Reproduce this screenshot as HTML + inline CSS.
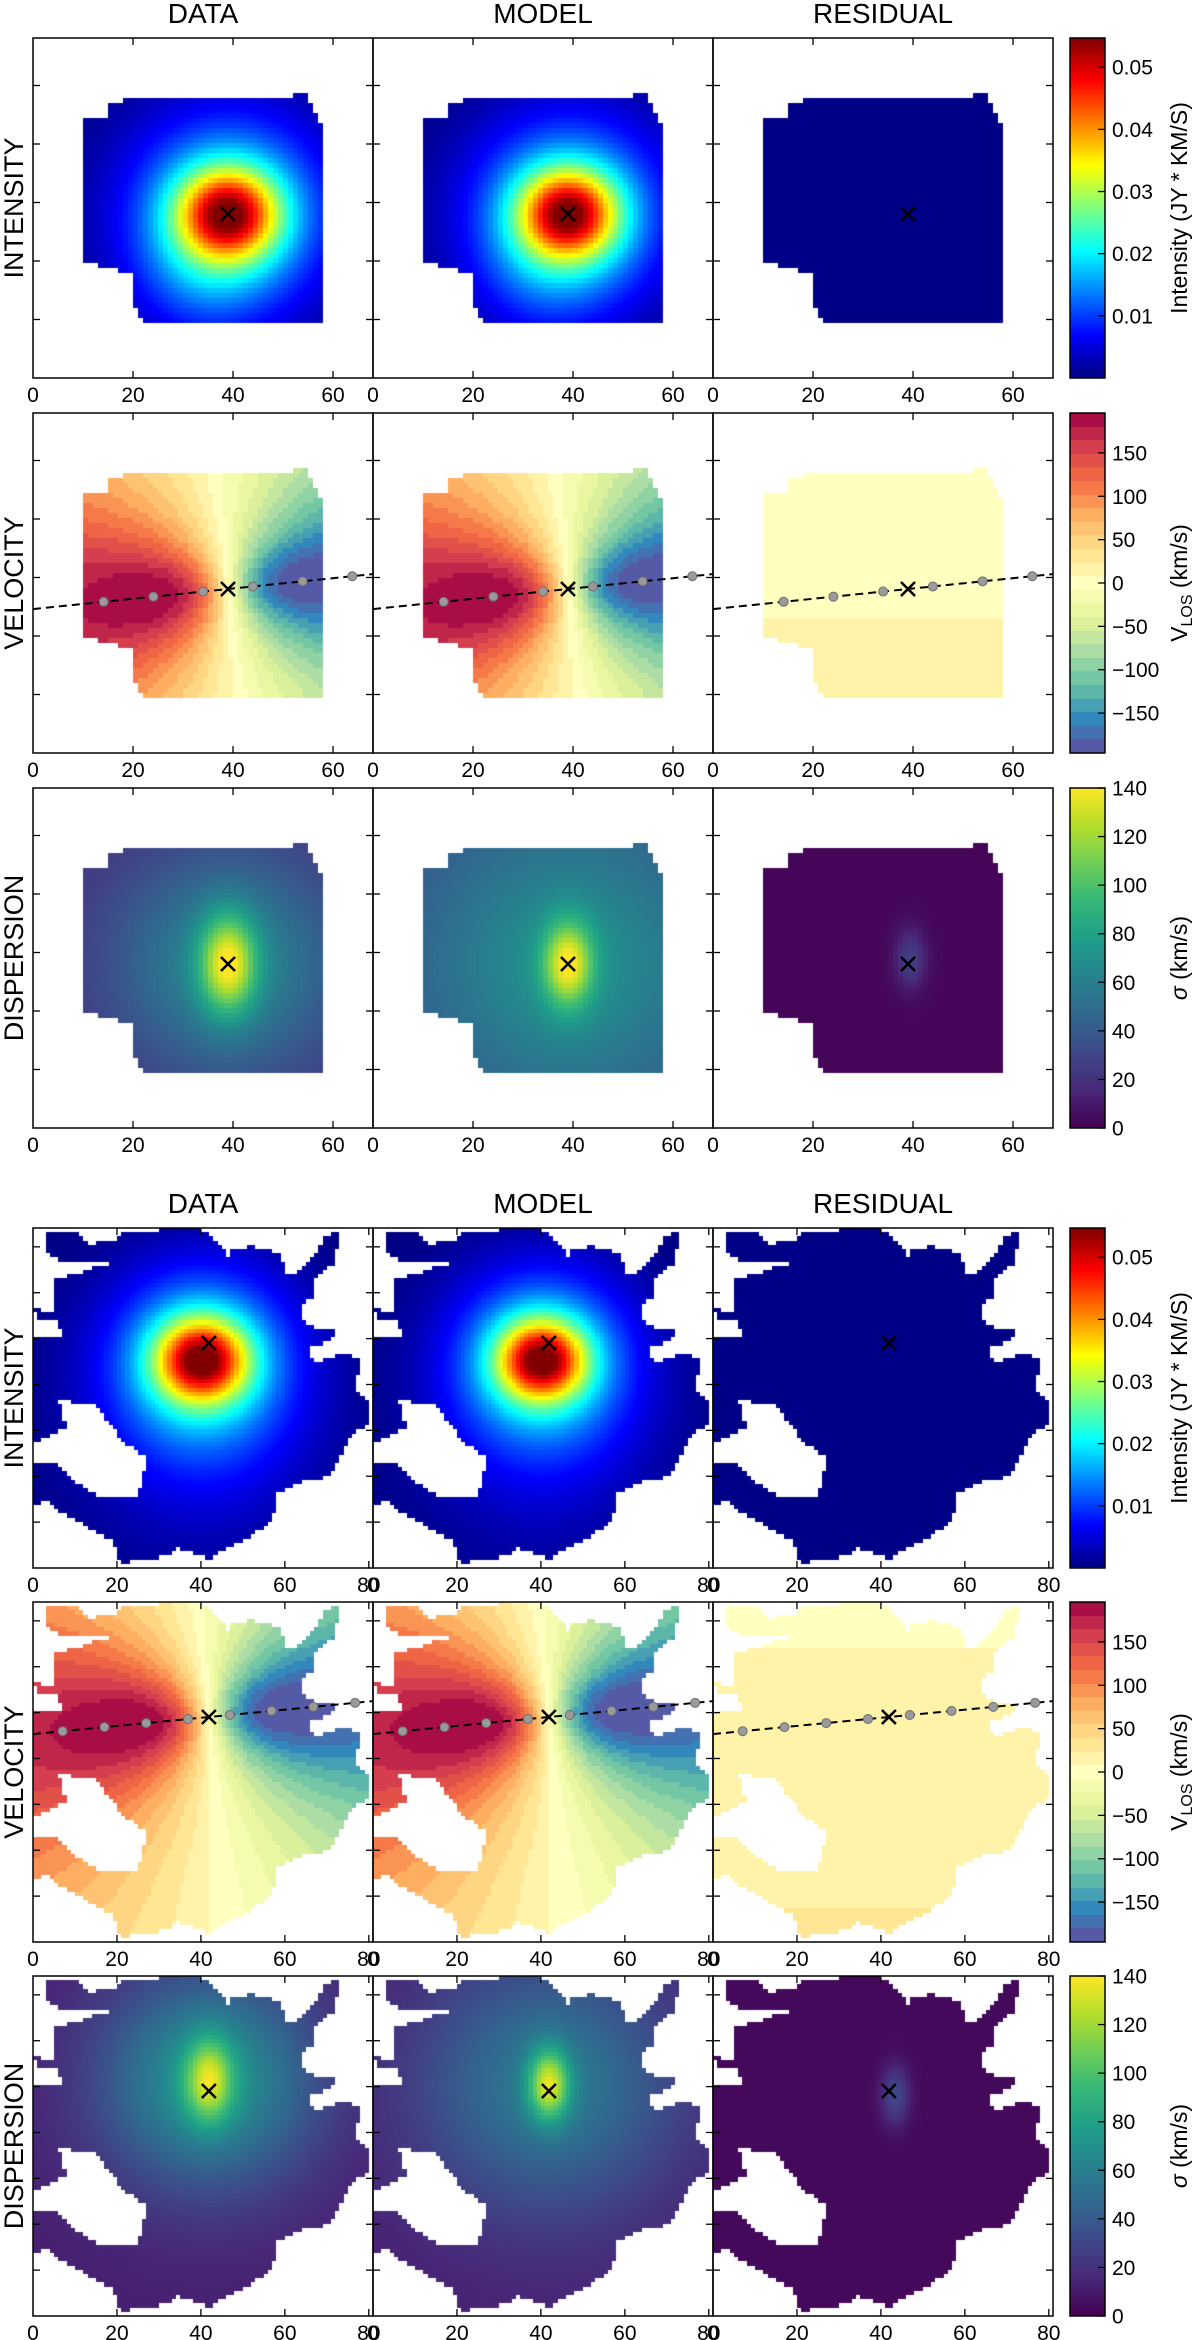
<!DOCTYPE html>
<html><head><meta charset="utf-8">
<style>
body{margin:0;background:#fff;width:1200px;height:2340px;overflow:hidden;position:relative;font-family:"Liberation Sans","DejaVu Sans",sans-serif}
canvas,svg{position:absolute;left:0;top:0}
</style></head>
<body>
<canvas id="c" width="1200" height="2340"></canvas>
<svg id="s" width="1200" height="2340" xmlns="http://www.w3.org/2000/svg"></svg>
<script>
// ---------- layout ----------
const panelCols=[33,373,713];
const topRows=[38,413,788];
const botRows=[1228,1602,1976];
const panelSize=340;
// ---------- labels / ticks ----------
const columnTitles=["DATA","MODEL","RESIDUAL"];
const rowTitles=["INTENSITY","VELOCITY","DISPERSION"];
const xTicksTop=[0,20,40,60];
const xTicksBot=[0,20,40,60,80];
const intensityTicks=[0.01,0.02,0.03,0.04,0.05];
const intensityTickLabels=["0.01","0.02","0.03","0.04","0.05"];
const velocityTicks=[-150,-100,-50,0,50,100,150];
const velocityTickLabels=["\u2212150","\u2212100","\u221250","0","50","100","150"];
const dispersionTicks=[0,20,40,60,80,100,120,140];
const intensityRange=[0,0.0547];
const velocityRange=[-196,196];
const dispersionRange=[0,140];
const velocityLevels=[25];
// ---------- galaxy 1 (top) ----------
const g1Grid=[68];
const g1Center=[39.0,35.2];
const g1CoreAmp=[0.035,0.035];
const g1CoreSigma=[7,6.8];
const g1BroadAmp=[0.021,0.021];
const g1BroadSigma=[14,13.5];
const g1IntRes=[0.0004];
const g1TailAmp=[0.005,0.004];
const g1TailPos=[34,47];
const g1TailSigma=[9];
const g1VelParams=[197,13,0.6,-0.103]; // vmax, rpeak, q, slope
const g1VelRes=[6,0.3];
const g1DispData=[20,45,16,80,4,7];
const g1DispModel=[30,40,22,75,3.5,6];
const g1DispRes=[2,25,2.2,4.2];
const g1Dots=[-25,-15,-5,5,15,25];
const g1Mask=[[50,80],[74,80],[74,63],[90,63],[90,58],[257,58],[262,54],[277,54],[277,65],[283,75],[291,92],[291,283],[109,283],[100,268],[100,237],[80,231],[50,224]];
const g1YTickStep=[11.7];
// ---------- galaxy 2 (bottom) ----------
const g2Grid=[81];
const g2Center=[41.9,27.4];
const g2IntPeakPos=[40.2,31.5];
const g2CoreAmp=[0.035,0.035];
const g2CoreSigma=[7.5,7.2];
const g2BroadAmp=[0.021,0.021];
const g2BroadSigma=[15,14.5];
const g2IntRes=[0.0004];
const g2TailAmp=[0.0045,0.004];
const g2TailPos=[40,52];
const g2TailSigma=[20];
const g2VelParams=[200,15,0.6,-0.097];
const g2VelRes=[12,0.25];
const g2DispData=[12,62,18,65,4,7];
const g2DispModel=[12,45,22,80,3.5,6];
const g2DispRes=[3,28,2.5,5];
const g2Dots=[-35,-25,-15,-5,5,15,25,35];
// mask traced at 3x zoom (divide by 3 for panel px)
const g2Mask=[[40,15],[130,15],[170,45],[250,40],[260,15],[340,10],[390,5],[500,5],[540,25],[590,90],[600,60],[660,55],[745,75],[755,140],[790,140],[830,100],[860,60],[880,20],[920,15],[905,105],[850,150],[840,210],[810,230],[810,280],[850,300],[905,300],[905,330],[830,360],[840,405],[910,385],[935,370],[990,400],[965,480],[1005,520],[1010,590],[960,615],[935,660],[900,730],[870,750],[790,765],[735,800],[720,880],[650,925],[560,970],[540,995],[430,960],[400,985],[260,1005],[240,940],[150,890],[80,850],[40,820],[0,830],[0,700],[75,710],[120,760],[190,800],[315,800],[345,690],[270,640],[230,590],[185,530],[80,520],[100,600],[40,630],[0,650],[0,325],[90,325],[75,275],[15,275],[15,250],[0,245],[0,240],[60,255],[65,150],[140,140],[180,120],[250,100],[200,95],[75,95],[40,70]];
const g2YTickStep=[10.93];

// ---------- colormaps ----------
function cl(v){return Math.max(0,Math.min(1,v));}
function jet(t){t=cl(t);return [cl(1.5-Math.abs(4*t-3))*255,cl(1.5-Math.abs(4*t-2))*255,cl(1.5-Math.abs(4*t-1))*255];}
function hex(h){return [parseInt(h.substr(1,2),16),parseInt(h.substr(3,2),16),parseInt(h.substr(5,2),16)];}
const spectralR=['#5e4fa2','#3288bd','#66c2a5','#abdda4','#e6f598','#ffffbf','#fee08b','#fdae61','#f46d43','#d53e4f','#9e0142'].map(hex);
const viridisA=['#440154','#482878','#3e4989','#31688e','#26828e','#1f9e89','#35b779','#6ece58','#b5de2b','#fde725'].map(hex);
function interp(a,t){t=cl(t);const f=t*(a.length-1);const i=Math.min(a.length-2,Math.floor(f));const r=f-i;return [a[i][0]+(a[i+1][0]-a[i][0])*r,a[i][1]+(a[i+1][1]-a[i][1])*r,a[i][2]+(a[i+1][2]-a[i][2])*r];}
function spec(t){const L=velocityLevels[0];const lv=Math.min(L-1,Math.max(0,Math.floor(cl(t)*L)));return interp(spectralR,(lv+0.5)/L);}
function vir(t){return interp(viridisA,t);}
function norm(v,r){return (v-r[0])/(r[1]-r[0]);}

// ---------- fields ----------
function gauss(dx,dy,sx,sy){return Math.exp(-(dx*dx/(2*sx*sx)+dy*dy/(2*sy*sy)));}
function rotCurve(x){return (0.55*(2*x/(1+x*x))+0.5*Math.tanh(1.2*x))/0.97;}
function velField(dx,dy,p){const n=Math.hypot(1,p[3]);const ax=1/n,ay=p[3]/n;const u=dx*ax+dy*ay,w=-dx*ay+dy*ax;const R=Math.hypot(u,w/p[2])+1e-6;return -p[0]*rotCurve(R/p[1])*u/R;}
function dispField(dx,dy,p){const R=Math.hypot(dx,dy);return p[0]+p[1]*Math.exp(-R*R/(2*p[2]*p[2]))+p[3]*gauss(dx,dy,p[4],p[5]);}
function inPoly(poly,x,y){let c=false;for(let i=0,j=poly.length-1;i<poly.length;j=i++){const xi=poly[i][0],yi=poly[i][1],xj=poly[j][0],yj=poly[j][1];if(((yi>y)!=(yj>y))&&(x<(xj-xi)*(y-yi)/(yj-yi)+xi))c=!c;}return c;}

function g1Value(row,col,ux,uy){
  const dx=ux-g1Center[0],dy=uy-g1Center[1];
  if(row===0){ if(col===2) return g1IntRes[0];
    return g1CoreAmp[col]*gauss(dx,dy,g1CoreSigma[col],g1CoreSigma[col]*0.9)+g1BroadAmp[col]*gauss(dx,dy,g1BroadSigma[col],g1BroadSigma[col])+g1TailAmp[col]*gauss(ux-g1TailPos[0],uy-g1TailPos[1],g1TailSigma[0],g1TailSigma[0]);}
  if(row===1){ if(col===2) return g1VelRes[0]+g1VelRes[1]*dy; return velField(dx,dy,g1VelParams);}
  if(col===0) return dispField(dx,dy,g1DispData);
  if(col===1) return dispField(dx,dy,g1DispModel);
  return g1DispRes[0]+g1DispRes[1]*gauss(dx-0.5,dy+1,g1DispRes[2],g1DispRes[3]);
}
function g2Value(row,col,ux,uy){
  const dx=ux-g2Center[0],dy=uy-g2Center[1];
  if(row===0){ if(col===2) return g2IntRes[0];
    const ex=ux-g2IntPeakPos[0],ey=uy-g2IntPeakPos[1];
    return g2CoreAmp[col]*gauss(ex,ey,g2CoreSigma[col],g2CoreSigma[col]*0.9)+g2BroadAmp[col]*gauss(ex,ey,g2BroadSigma[col],g2BroadSigma[col])+g2TailAmp[col]*gauss(ux-g2TailPos[0],uy-g2TailPos[1],g2TailSigma[0],g2TailSigma[0]);}
  if(row===1){ if(col===2) return g2VelRes[0]+g2VelRes[1]*dy; return velField(dx,dy,g2VelParams);}
  if(col===0) return dispField(dx,dy+2.5,g2DispData);
  if(col===1) return dispField(dx,dy+1.5,g2DispModel);
  return g2DispRes[0]+g2DispRes[1]*gauss(dx-1.5,dy-1,g2DispRes[2],g2DispRes[3]);
}
function colorFor(row,v){ if(row===0) return jet(norm(v,intensityRange)); if(row===1) return spec(norm(v,velocityRange)); return vir(norm(v,dispersionRange)); }

// ---------- draw heatmaps ----------
const ctx=document.getElementById('c').getContext('2d');
const g2MaskPx=g2Mask.map(p=>[p[0]/3,p[1]/3]);
function drawGalaxy(rows,n,mask,valueFn){
  const cs=panelSize/n;
  for(let r=0;r<3;r++)for(let c=0;c<3;c++){
    const x0=panelCols[c],y0=rows[r];
    for(let i=0;i<n;i++)for(let j=0;j<n;j++){
      const px=(i+0.5)*cs,py=(j+0.5)*cs;
      if(!inPoly(mask,px,py))continue;
      const col=colorFor(r,valueFn(r,c,i+0.5,j+0.5));
      ctx.fillStyle='rgb('+Math.round(col[0])+','+Math.round(col[1])+','+Math.round(col[2])+')';
      const xa=Math.round(x0+i*cs),xb=Math.round(x0+(i+1)*cs),ya=Math.round(y0+j*cs),yb=Math.round(y0+(j+1)*cs);
      ctx.fillRect(xa,ya,xb-xa,yb-ya);
    }
  }
}
drawGalaxy(topRows,g1Grid[0],g1Mask,g1Value);
drawGalaxy(botRows,g2Grid[0],g2MaskPx,g2Value);

// colorbars
const cbX=1070,cbW=35;
function drawBar(y0,row,range){
  for(let k=0;k<panelSize;k++){const v=range[1]-(k+0.5)/panelSize*(range[1]-range[0]);const col=colorFor(row,v);
    ctx.fillStyle='rgb('+Math.round(col[0])+','+Math.round(col[1])+','+Math.round(col[2])+')';ctx.fillRect(cbX,y0+k,cbW,1);}
}
[topRows,botRows].forEach(rows=>{drawBar(rows[0],0,intensityRange);drawBar(rows[1],1,velocityRange);drawBar(rows[2],2,dispersionRange);});

// ---------- svg ----------
const ns='http://www.w3.org/2000/svg';
const svg=document.getElementById('s');
function mk(tag,attrs,parent){const e=document.createElementNS(ns,tag);for(const k in attrs)e.setAttribute(k,attrs[k]);(parent||svg).appendChild(e);return e;}
function txt(str,attrs,parent){const e=mk('text',attrs,parent);e.textContent=str;return e;}

function drawFigure(rows,xTicks,ppu,yStep,center,cellPx,dots,velP,figName){
  const g=mk('g',{});
  
  
  for(let c=0;c<3;c++){
    const t=txt(columnTitles[c],{x:panelCols[c]+170,y:rows[0]-15,'font-size':28,'text-anchor':'middle',fill:'#000'},g);
    
    
  }
  for(let r=0;r<3;r++){
    const cy=rows[r]+170;
    const rl=txt(rowTitles[r],{x:23,y:cy,'font-size':27,'text-anchor':'middle',transform:'rotate(-90 23 '+cy+')',fill:'#000'},g);
    
    
    for(let c=0;c<3;c++){
      const x0=panelCols[c],y0=rows[r];
      const pg=mk('g',{},g);
      
      
      xTicks.forEach(v=>{const x=x0+v*ppu;if(v>0){mk('line',{x1:x,y1:y0,x2:x,y2:y0+7,stroke:'#000','stroke-width':1.3},pg);mk('line',{x1:x,y1:y0+panelSize,x2:x,y2:y0+panelSize-7,stroke:'#000','stroke-width':1.3},pg);}
        const tl=txt(String(v),{x:x,y:y0+panelSize+24,'font-size':21,'text-anchor':'middle',fill:'#000'},pg);
        
        });
      for(let k=1;k*yStep*ppu<panelSize-2;k++){const y=y0+panelSize-k*yStep*ppu;
        mk('line',{x1:x0,y1:y,x2:x0+7,y2:y,stroke:'#000','stroke-width':1.3},pg);
        mk('line',{x1:x0+panelSize,y1:y,x2:x0+panelSize-7,y2:y,stroke:'#000','stroke-width':1.3},pg);}
      const fr=mk('rect',{x:x0,y:y0,width:panelSize,height:panelSize,fill:'none',stroke:'#000','stroke-width':1.5},pg);
      
      
      const cx=x0+center[0]*cellPx,cyy=y0+center[1]*cellPx;
      if(r===1){
        const n=Math.hypot(1,velP[3]);const ax=1/n,ay=velP[3]/n;
        const ln=mk('line',{x1:x0,y1:cyy+velP[3]*(x0-cx),x2:x0+panelSize,y2:cyy+velP[3]*(x0+panelSize-cx),stroke:'#000','stroke-width':2,'stroke-dasharray':'8,5'},pg);
        
        
        dots.forEach(d=>{const dt=mk('circle',{cx:cx+d*cellPx*ax,cy:cyy+d*cellPx*ay,r:4.5,fill:'#9a9a9a',stroke:'#6e6e6e','stroke-width':1},pg);
          
          });
      }
      const xm=mk('path',{d:'M'+(cx-7)+' '+(cyy-7)+'L'+(cx+7)+' '+(cyy+7)+'M'+(cx+7)+' '+(cyy-7)+'L'+(cx-7)+' '+(cyy+7),stroke:'#000','stroke-width':2.6,fill:'none'},pg);
      
      
    }
  }
  const bars=[[intensityTicks,intensityTickLabels,intensityRange,'intensity-colorbar'],[velocityTicks,velocityTickLabels,velocityRange,'velocity-colorbar'],[dispersionTicks,dispersionTicks.map(String),dispersionRange,'dispersion-colorbar']];
  bars.forEach((b,r)=>{
    const y0=rows[r];
    const cg=mk('g',{},g);
    
    
    mk('rect',{x:cbX,y:y0,width:cbW,height:panelSize,fill:'none',stroke:'#000','stroke-width':1.5},cg);
    b[0].forEach((v,i)=>{const y=y0+panelSize*(1-norm(v,b[2]));
      mk('line',{x1:cbX+cbW-7,y1:y,x2:cbX+cbW,y2:y,stroke:'#000','stroke-width':1.3},cg);
      const tl=txt(b[1][i],{x:cbX+cbW+7,y:y+7.5,'font-size':21,fill:'#000'},cg);
      
      });
    const cy=y0+170;
    let lab;
    if(r===0){lab=txt('Intensity (JY * KM/S)',{x:1187,y:cy,'font-size':23,'text-anchor':'middle',transform:'rotate(-90 1187 '+cy+')',fill:'#000'},cg);}
    else if(r===1){lab=mk('text',{x:1187,y:cy,'font-size':23,'text-anchor':'middle',transform:'rotate(-90 1187 '+cy+')',fill:'#000'},cg);
      const a=document.createElementNS(ns,'tspan');a.textContent='V';lab.appendChild(a);
      const s=document.createElementNS(ns,'tspan');s.setAttribute('font-size','16');s.setAttribute('dy','5');s.textContent='LOS';lab.appendChild(s);
      const t2=document.createElementNS(ns,'tspan');t2.setAttribute('dy','-5');t2.textContent=' (km/s)';lab.appendChild(t2);}
    else {lab=mk('text',{x:1187,y:cy,'font-size':23,'text-anchor':'middle',transform:'rotate(-90 1187 '+cy+')',fill:'#000'},cg);
      const a=document.createElementNS(ns,'tspan');a.setAttribute('font-style','italic');a.textContent='\u03c3';lab.appendChild(a);
      const t2=document.createElementNS(ns,'tspan');t2.textContent=' (km/s)';lab.appendChild(t2);}
    
    
  });
}
drawFigure(topRows,xTicksTop,5,g1YTickStep[0],g1Center,5,g1Dots,g1VelParams,'galaxy-1-figure');
drawFigure(botRows,xTicksBot,panelSize/81,g2YTickStep[0],g2Center,panelSize/81,g2Dots,g2VelParams,'galaxy-2-figure');
</script>
</body></html>
